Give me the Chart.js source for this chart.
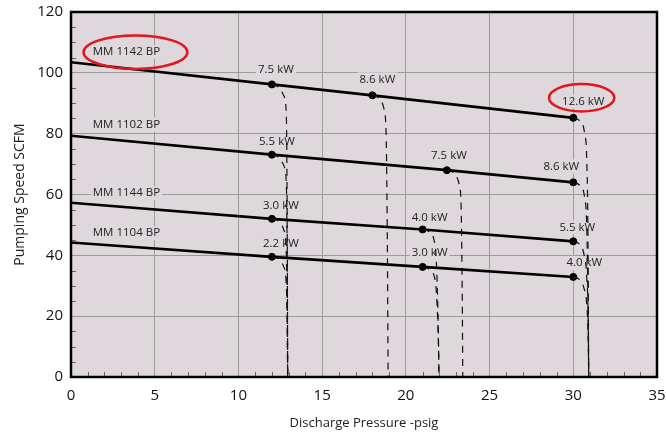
<!DOCTYPE html>
<html>
<head>
<meta charset="utf-8">
<script src="https://cdn.jsdelivr.net/npm/chart.js@4.4.1/dist/chart.umd.min.js"></script>
<style>
  body { margin: 0; background: #fff; }
  #wrap { width: 666px; height: 436px; }
</style>
</head>
<body>
<div id="wrap"><canvas id="pumpChart" width="666" height="436"></canvas></div>
<script>
// pump curves
const models = ['MM 1142 BP', 'MM 1102 BP', 'MM 1144 BP', 'MM 1104 BP'];
const mm1142 = [{x: 0, y: 103.5}, {x: 12, y: 96.2}, {x: 18, y: 92.6}, {x: 30, y: 85.2}];
const mm1102 = [{x: 0, y: 79.3}, {x: 12, y: 73.1}, {x: 22.45, y: 68.0}, {x: 30, y: 64.0}];
const mm1144 = [{x: 0, y: 57.3}, {x: 12, y: 52.0}, {x: 21, y: 48.5}, {x: 30, y: 44.6}];
const mm1104 = [{x: 0, y: 44.2}, {x: 12, y: 39.5}, {x: 21, y: 36.2}, {x: 30, y: 32.9}];

const kw1142 = ['7.5 kW', '8.6 kW', '12.6 kW'];
const kw1102 = ['5.5 kW', '7.5 kW', '8.6 kW'];
const kw1144 = ['3.0 kW', '4.0 kW', '5.5 kW'];
const kw1104 = ['2.2 kW', '3.0 kW', '4.0 kW'];

// dashed power-limit curves dropping from each rating point
const drop1142 = [
  [{x: 12, y: 96.2}, {x: 12.4, y: 95.3}, {x: 12.75, y: 92}, {x: 12.87, y: 84}, {x: 12.92, y: 40}, {x: 12.94, y: 0}],
  [{x: 18, y: 92.6}, {x: 18.4, y: 91.7}, {x: 18.7, y: 88}, {x: 18.82, y: 80}, {x: 18.9, y: 40}, {x: 18.94, y: 0}],
  [{x: 30, y: 85.2}, {x: 30.35, y: 84.4}, {x: 30.68, y: 80}, {x: 30.8, y: 72}, {x: 30.87, y: 50}, {x: 30.92, y: 0}]
];
const drop1102 = [
  [{x: 12, y: 73.1}, {x: 12.4, y: 72.3}, {x: 12.75, y: 69}, {x: 12.87, y: 62}, {x: 12.92, y: 30}, {x: 12.94, y: 0}],
  [{x: 22.45, y: 68.0}, {x: 22.85, y: 67.1}, {x: 23.18, y: 63.5}, {x: 23.3, y: 56}, {x: 23.37, y: 25}, {x: 23.4, y: 0}],
  [{x: 30, y: 64.0}, {x: 30.35, y: 63.2}, {x: 30.68, y: 59}, {x: 30.8, y: 50}, {x: 30.88, y: 25}, {x: 30.92, y: 0}]
];
const drop1144 = [
  [{x: 12, y: 52.0}, {x: 12.4, y: 51.2}, {x: 12.7, y: 48.5}, {x: 12.85, y: 42}, {x: 12.92, y: 20}, {x: 12.94, y: 0}],
  [{x: 21, y: 48.5}, {x: 21.4, y: 47.7}, {x: 21.7, y: 44.5}, {x: 21.82, y: 38}, {x: 21.94, y: 15}, {x: 21.98, y: 0}],
  [{x: 30, y: 44.6}, {x: 30.35, y: 43.8}, {x: 30.65, y: 40}, {x: 30.8, y: 33}, {x: 30.9, y: 15}, {x: 30.92, y: 0}]
];
const drop1104 = [
  [{x: 12, y: 39.5}, {x: 12.4, y: 38.8}, {x: 12.7, y: 36.3}, {x: 12.85, y: 31}, {x: 12.92, y: 15}, {x: 12.94, y: 0}],
  [{x: 21, y: 36.2}, {x: 21.4, y: 35.4}, {x: 21.7, y: 33}, {x: 21.82, y: 28}, {x: 21.94, y: 12}, {x: 21.98, y: 0}],
  [{x: 30, y: 32.9}, {x: 30.35, y: 32.1}, {x: 30.65, y: 29}, {x: 30.8, y: 24}, {x: 30.9, y: 10}, {x: 30.92, y: 0}]
];

// where the model names sit (data coords, left aligned)
const modelLabelPos = [{x: 1.3, y: 106.8}, {x: 1.3, y: 83.0}, {x: 1.3, y: 60.5}, {x: 1.3, y: 47.3}];
// red highlight ellipses (centre and radii in data units)
const highlights = [{x: 3.85, y: 106.8, rx: 3.1, ry: 5.5}, {x: 30.5, y: 91.8, rx: 1.95, ry: 4.5}];

// pixel nudges for the kW labels relative to their point
const kwOffsets = [
  [[4, -15], [5, -16], [10, -16]],
  [[5, -13], [2, -14], [-12, -16]],
  [[9, -13], [7, -12], [4, -14]],
  [[9, -13], [7, -14], [11, -14]]
];

const PLOT_BG = 'rgb(222,216,221)';
const curves = [mm1142, mm1102, mm1144, mm1104];
const kwLabels = [kw1142, kw1102, kw1144, kw1104];
const drops = [drop1142, drop1102, drop1144, drop1104];

const datasets = [];
drops.forEach(set => set.forEach(d => {
  datasets.push({
    data: d, showLine: true, borderColor: '#111', borderWidth: 1.2,
    borderDash: [7, 6], pointRadius: 0, cubicInterpolationMode: 'monotone'
  });
}));
curves.forEach((c, i) => {
  datasets.push({
    label: models[i], data: c, showLine: true, borderColor: '#000', borderWidth: 2.6,
    pointRadius: [0, 3.5, 3.5, 3.5], pointBorderWidth: 1,
    pointBackgroundColor: '#000', pointBorderColor: '#000', tension: 0
  });
});

const decorations = {
  id: 'decorations',
  beforeDraw(chart) {
    const {ctx, chartArea: a} = chart;
    ctx.save();
    ctx.fillStyle = PLOT_BG;
    ctx.fillRect(a.left, a.top, a.right - a.left, a.bottom - a.top);
    ctx.restore();
  },
  beforeDatasetsDraw(chart) {
    const {ctx, scales: {x, y}} = chart;
    ctx.save();
    ctx.textBaseline = 'middle';
    const put = (txt, px, py, align) => {
      const w = ctx.measureText(txt).width;
      const left = align === 'left' ? px : px - w / 2;
      ctx.fillStyle = PLOT_BG;
      ctx.fillRect(left - 2, py - 7, w + 4, 14);
      ctx.fillStyle = '#222';
      ctx.textAlign = align;
      ctx.fillText(txt, px, py);
    };
    ctx.font = '11.5px "Open Sans", "Noto Sans", sans-serif';
    models.forEach((m, i) => {
      put(m, x.getPixelForValue(modelLabelPos[i].x), y.getPixelForValue(modelLabelPos[i].y), 'left');
    });
    curves.forEach((c, i) => {
      kwLabels[i].forEach((t, j) => {
        const p = c[j + 1];
        const off = kwOffsets[i][j];
        put(t, x.getPixelForValue(p.x) + off[0], y.getPixelForValue(p.y) + off[1], 'center');
      });
    });
    ctx.restore();
  },
  afterDatasetsDraw(chart) {
    const {ctx, scales: {x, y}} = chart;
    ctx.save();
    ctx.strokeStyle = '#e3161d';
    ctx.lineWidth = 2.5;
    highlights.forEach(h => {
      const cx = x.getPixelForValue(h.x), cy = y.getPixelForValue(h.y);
      const rx = x.getPixelForValue(h.x + h.rx) - cx;
      const ry = cy - y.getPixelForValue(h.y + h.ry);
      ctx.beginPath();
      ctx.ellipse(cx, cy, rx, ry, 0, 0, Math.PI * 2);
      ctx.stroke();
    });
    ctx.restore();
  },
  afterDraw(chart) {
    const {ctx, chartArea: a, scales: {x, y}} = chart;
    ctx.save();
    // minor ticks
    ctx.strokeStyle = '#666';
    ctx.lineWidth = 1;
    ctx.beginPath();
    for (let v = 1; v < 35; v++) {
      if (v % 5 === 0) continue;
      const px = Math.round(x.getPixelForValue(v)) + 0.5;
      ctx.moveTo(px, a.bottom);
      ctx.lineTo(px, a.bottom - 5);
    }
    for (let v = 5; v < 120; v += 5) {
      if (v % 20 === 0) continue;
      const py = Math.round(y.getPixelForValue(v)) + 0.5;
      ctx.moveTo(a.left, py);
      ctx.lineTo(a.left + 5, py);
    }
    ctx.stroke();
    // frame
    ctx.strokeStyle = '#000';
    ctx.lineWidth = 2.5;
    ctx.strokeRect(a.left, a.top, a.right - a.left, a.bottom - a.top);
    ctx.restore();
  }
};

new Chart(document.getElementById('pumpChart'), {
  type: 'scatter',
  data: {datasets},
  options: {
    responsive: false,
    animation: false,
    layout: {padding: {top: 12, right: 9, left: 0, bottom: 0}},
    plugins: {legend: {display: false}, tooltip: {enabled: false}},
    scales: {
      x: {
        min: 0, max: 35,
        ticks: {stepSize: 5, color: '#111', padding: 10, font: {size: 15, family: '"Open Sans", "Noto Sans", sans-serif'}},
        grid: {color: '#9a9a9a', lineWidth: 1, drawTicks: false},
        border: {display: false},
        title: {display: true, text: 'Discharge Pressure -psig', color: '#222', padding: {bottom: 5},
          font: {size: 13, family: '"Open Sans", "Noto Sans", sans-serif'}},
        afterFit(s) { s.height = 59; s.paddingLeft = 0; s.paddingRight = 0; }
      },
      y: {
        min: 0, max: 120,
        ticks: {stepSize: 20, color: '#111', padding: 8, font: {size: 15, family: '"Open Sans", "Noto Sans", sans-serif'}},
        grid: {color: '#9a9a9a', lineWidth: 1, drawTicks: false},
        border: {display: false},
        title: {display: true, text: 'Pumping Speed SCFM', color: '#222', padding: {top: 12},
          font: {size: 14, family: '"Open Sans", "Noto Sans", sans-serif'}},
        afterFit(s) { s.width = 71; s.paddingTop = 0; s.paddingBottom = 0; }
      }
    }
  },
  plugins: [decorations]
});
</script>
</body>
</html>
